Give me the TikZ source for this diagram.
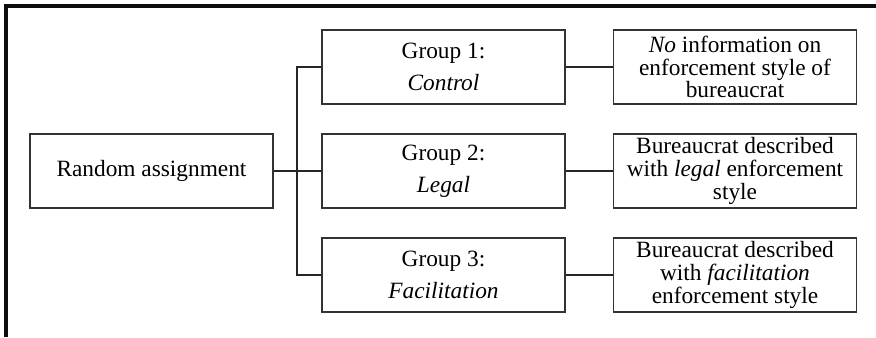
\documentclass[tikz,border=0pt]{standalone}
\usepackage{fontspec}
\setmainfont{Liberation Serif}

\tikzset{
    box/.style={shape=rectangle, draw=black!80, line width=1.2pt, minimum width=182pt, minimum height=55.5pt, inner sep=2pt, align=center, font=\fontsize{17.5}{17}\selectfont},
    groupbox/.style={box, font=\fontsize{17.5}{24}\selectfont},
    link/.style={draw=black!85, line width=1pt},
}

\begin{document}
\begin{tikzpicture}[x=0.75pt, y=-0.75pt]
        \useasboundingbox (0,0) rectangle (876,337);
        \draw[line width=2.4pt, black!95] (6,337) -- (6,6) -- (876,6);

        \node[box] (rand) at (151.5,171) {Random assignment};

        \node[groupbox] (g1) at (443.5,67) {Group 1:\\\textit{Control}};
        \node[groupbox] (g2) at (443.5,171) {Group 2:\\\textit{Legal}};
        \node[groupbox] (g3) at (443.5,275) {Group 3:\\\textit{Facilitation}};

        \node[box] (d1) at (735,67) {\textit{No} information on\\enforcement style of\\bureaucrat};
        \node[box] (d2) at (735,171) {Bureaucrat described\\with \textit{legal} enforcement\\style};
        \node[box] (d3) at (735,275) {Bureaucrat described\\with \textit{facilitation}\\enforcement style};

        \coordinate (split) at (297,171);

        \path[link] (rand) -- (g2);
        \path[link] (g1.west) -| (split) |- (g3.west);

        \path[link] (g1) -- (d1);
        \path[link] (g2) -- (d2);
        \path[link] (g3) -- (d3);
    \end{tikzpicture}
\end{document}
